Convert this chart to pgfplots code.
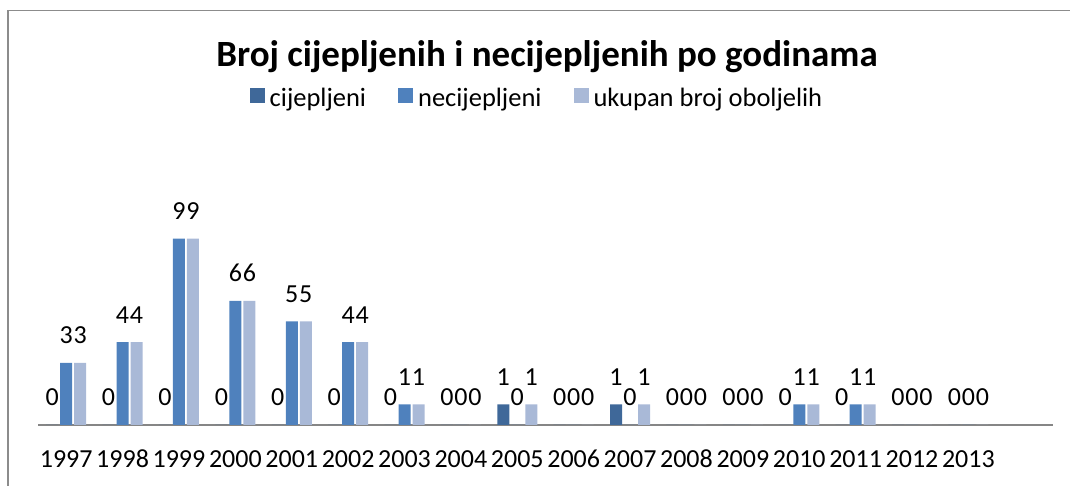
\documentclass[border=0pt]{standalone}
\usepackage{pgfplots}
\pgfplotsset{compat=1.18}
\usepackage{fontspec}
\setmainfont{Carlito}
\definecolor{cdark}{RGB}{63,104,153}
\definecolor{cmed}{RGB}{79,129,189}
\definecolor{clight}{RGB}{169,185,215}
\definecolor{framegray}{RGB}{140,140,140}
\definecolor{axisgray}{RGB}{134,134,134}
\begin{document}
\begin{tikzpicture}[x=1bp,y=1bp]
\path[use as bounding box] (0,0) rectangle (1070,486);
\begin{scope}
\clip (0,0) rectangle (1070,486);
\draw[framegray, line width=1.8bp] (8,-20) -- (8,475.5) -- (1100,475.5);
\end{scope}
\node[font=\fontsize{37bp}{44bp}\selectfont\bfseries, anchor=base] at (547,419) {Broj cijepljenih i necijepljenih po godinama};
\begin{axis}[
  at={(38bp,61bp)}, anchor=south west,
  scale only axis, width=1015bp, height=248.4bp,
  xmin=-0.5, xmax=17.5, ymin=0, ymax=12,
  ybar=2bp, bar width=12bp,
  axis x line*=bottom, axis y line=none,
  x axis line style={draw=axisgray, line width=1.2bp},
  xtick={0,...,16},
  xticklabels={1997,1998,1999,2000,2001,2002,2003,2004,2005,2006,2007,2008,2009,2010,2011,2012,2013},
  major tick length=0pt,
  xticklabel style={font=\fontsize{26bp}{31bp}\selectfont, anchor=base, yshift=-43bp},
  /pgf/number format/assume math mode=true,
  nodes near coords={\pgfmathprintnumber[assume math mode=true]{\pgfplotspointmeta}},
  nodes near coords style={font=\fontsize{26bp}{31bp}\selectfont, anchor=base, yshift=19bp, text=black, inner sep=0pt},
  legend style={draw=none, fill=none, at={(0.4931,1.315)}, anchor=center, legend columns=3,
    font=\fontsize{26.5bp}{32bp}\selectfont, inner sep=0pt,
    nodes={inner xsep=5bp, inner ysep=2bp},
    /tikz/every even column/.append style={column sep=27bp}},
  legend image code/.code={\fill[#1,draw=none] (0bp,-5bp) rectangle (15bp,10bp);},
]
\addplot[fill=cdark, draw=none] coordinates {(0,0) (1,0) (2,0) (3,0) (4,0) (5,0) (6,0) (7,0) (8,1) (9,0) (10,1) (11,0) (12,0) (13,0) (14,0) (15,0) (16,0)};
\addplot[fill=cmed, draw=none] coordinates {(0,3) (1,4) (2,9) (3,6) (4,5) (5,4) (6,1) (7,0) (8,0) (9,0) (10,0) (11,0) (12,0) (13,1) (14,1) (15,0) (16,0)};
\addplot[fill=clight, draw=none] coordinates {(0,3) (1,4) (2,9) (3,6) (4,5) (5,4) (6,1) (7,0) (8,1) (9,0) (10,1) (11,0) (12,0) (13,1) (14,1) (15,0) (16,0)};
\legend{cijepljeni, necijepljeni, ukupan broj oboljelih}
\end{axis}
\end{tikzpicture}
\end{document}
